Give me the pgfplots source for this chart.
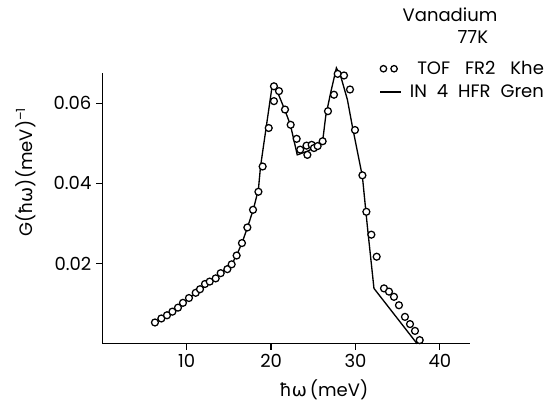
\documentclass[border=0pt]{standalone}
\usepackage{fontspec}
\setmainfont{Poppins}
\newfontfamily\dv{DejaVu Sans}
\usepackage{pgfplots}
\pgfplotsset{compat=1.18}
\newcommand{\fs}{\fontsize{13.5}{16}\selectfont}
\begin{document}
\begin{tikzpicture}
\useasboundingbox (-76.7pt,-43.7pt) rectangle (334.3pt,257.8pt);
\begin{axis}[
  scale only axis,
  width=276pt, height=203pt,
  xmin=0, xmax=43.6, ymin=0, ymax=0.0675,
  axis lines=left,
  axis line style={-, line width=1.1pt},
  tick align=outside,
  major tick length=4.5pt,
  tick style={line width=0.9pt, black},
  xtick={10,20,30,40},
  ytick={0.02,0.04,0.06},
  /pgf/number format/assume math mode=true,
  yticklabel style={/pgf/number format/fixed, /pgf/number format/precision=2, /pgf/number format/fixed zerofill, font=\fs, inner sep=3.5pt},
  xticklabel style={font=\fs},
  scaled y ticks=false,
  xlabel={{\dv ħω}\,(meV)},
  ylabel={G({\dv ħω})(meV)\textsuperscript{--1}},
  label style={font=\fs},
  xlabel style={at={(axis description cs:0.602,-0.171)}, anchor=center},
  ylabel style={at={(axis description cs:-0.209,0.634)}, anchor=center},
  legend style={draw=none, fill=none, font=\fs, at={(axis description cs:1.219,1.065)}, anchor=north east, row sep=2pt,
    /tikz/column 1/.style={column sep=4pt}},
  legend cell align=right,
  clip=false,
]
\addplot[only marks, mark=*, mark size=2.6pt, mark options={draw=black, fill=white, line width=0.95pt},
  legend image code/.code={\draw[black, fill=white, line width=0.95pt] plot[only marks, mark=*, mark size=2.4pt] coordinates {(0.08cm,0cm) (0.36cm,0cm)};}] coordinates {
(6.24,0.0053)(7.0,0.0063)(7.67,0.0071)(8.31,0.0080)(8.97,0.0090)(9.56,0.0102)(10.27,0.0114)(11.07,0.0127)(11.58,0.0136)(12.17,0.0149)(12.73,0.0155)(13.44,0.0163)(14.03,0.0176)(14.82,0.0186)(15.33,0.0198)(15.92,0.0220)(16.55,0.0251)(17.19,0.0290)(17.86,0.0334)(18.5,0.0379)(19.0,0.0442)(19.72,0.0538)(20.34,0.0605)(20.34,0.0642)(20.94,0.0630)(21.65,0.0584)(22.32,0.0546)(23.03,0.0511)(23.45,0.0484)(24.3,0.0471)(24.2,0.0494)(24.81,0.0496)(25.08,0.0488)(25.52,0.0493)(26.11,0.0505)(26.74,0.0580)(27.45,0.0621)(27.89,0.0673)(28.64,0.0669)(29.35,0.0634)(29.94,0.0533)(30.82,0.0420)(31.29,0.0329)(31.88,0.0272)(32.51,0.0217)(33.38,0.0138)(33.97,0.0130)(34.56,0.0117)(35.15,0.0096)(35.86,0.0067)(36.46,0.0049)(37.05,0.0032)(37.61,0.0009)
};
\addlegendentry{TOF\hspace{0.83em}FR2\hspace{0.83em}Khe}
\addplot[black, line width=1pt, no markers,
  legend image code/.code={\draw[black, line width=1pt] (0cm,0cm) -- (0.55cm,0cm);}] coordinates {
(6.2,0.0053)(7.0,0.0063)(8.3,0.0080)(9.6,0.0102)(11.0,0.0125)(12.7,0.0153)(14.0,0.0175)(15.3,0.0197)(15.9,0.0220)(16.55,0.0251)(17.2,0.0290)(17.9,0.0335)(18.5,0.0385)(18.75,0.0442)(20.15,0.0646)(20.6,0.0636)(21.65,0.0582)(22.3,0.0545)(23.1,0.0471)(24.3,0.0480)(25.2,0.0490)(26.08,0.0500)(26.47,0.0567)(27.06,0.0626)(27.74,0.0688)(28.25,0.0667)(29.04,0.0609)(29.63,0.0542)(30.82,0.0417)(31.41,0.0292)(32.19,0.0138)(37.3,0.0)
};
\addlegendentry{IN\hspace{0.55em}4\hspace{0.55em}HFR\hspace{0.55em}Gren}
\node[font=\fs, anchor=base] at (axis description cs:0.945,1.1895) {Vanadium};
\node[font=\fs, anchor=base] at (axis description cs:1.007,1.1097) {77K};
\end{axis}
\end{tikzpicture}
\end{document}
